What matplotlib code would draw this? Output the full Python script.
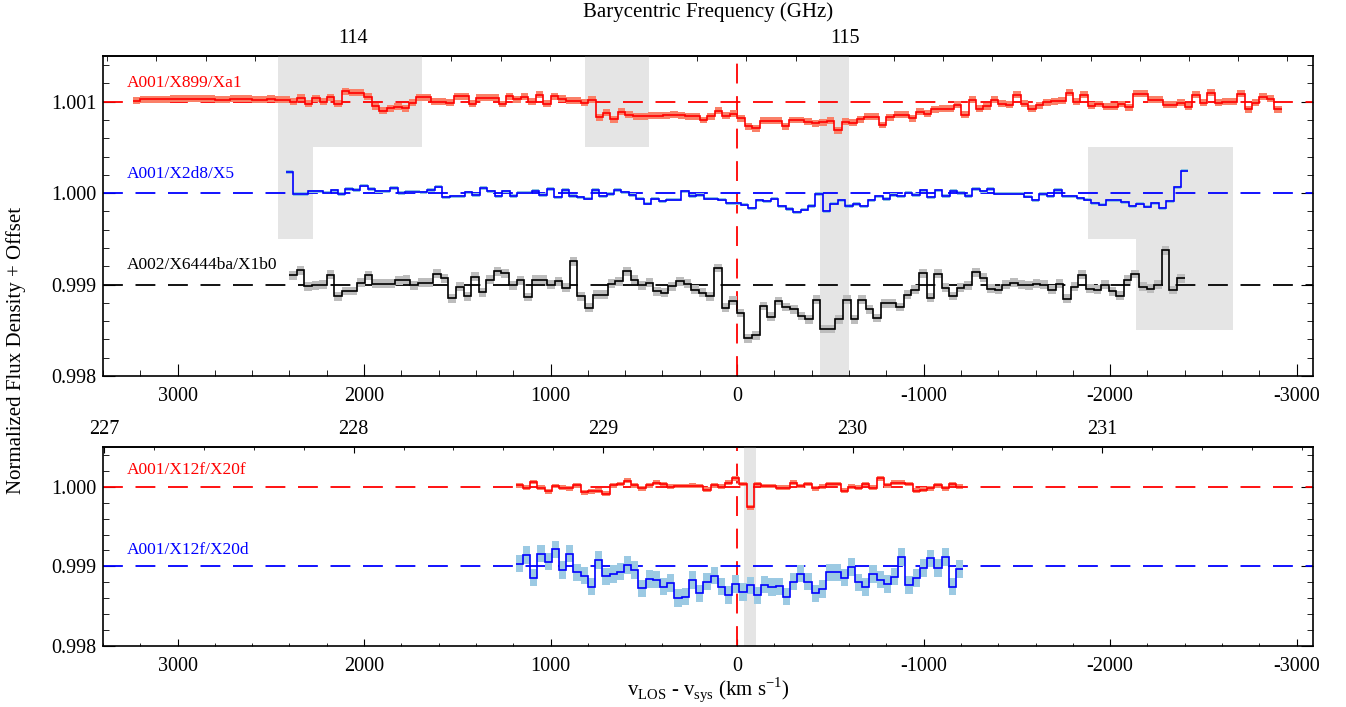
import numpy as np
import matplotlib
matplotlib.use('Agg')
import matplotlib.pyplot as plt
from matplotlib.ticker import MultipleLocator, FixedLocator, FormatStrFormatter
import matplotlib.transforms as mtransforms

plt.rcParams['font.family'] = ['Liberation Serif', 'DejaVu Serif']
plt.rcParams['mathtext.fontset'] = 'custom'
plt.rcParams['mathtext.rm'] = 'Liberation Serif'
plt.rcParams['axes.unicode_minus'] = False

# velocity range shown (km/s), same for both panels
v_left, v_right = 3400.0, -3088.0

# barycentric frequency (GHz) at v=0 and GHz per km/s, top / bottom panel
f0_top, dfdv_top = 114.781, 3.793e-4
f0_bot, dfdv_bot = 229.537, 7.475e-4
freq_ticks_top = [114, 115]
freq_ticks_bot = [227, 228, 229, 230, 231]

# ---- top panel: three spectral windows ----
# channel grid: first channel edge (km/s) and channel width (km/s)
red1_v0, red1_dv = 3239.0, 40.0
blue1_v0, blue1_dv = 2420.0, 40.0
blk1_v0, blk1_dv = 2403.0, 40.7
red1_off, blue1_off, blk1_off = 1.001, 1.000, 0.999
# flux minus offset, in units of 1e-4
red1_dev = [0.1, 0.25, 0.25, 0.25, 0.25, 0.3, 0.35, 0.35, 0.35, 0.35, 0.3, 0.2, 0.2, 0.3, 0.3, 0.3, 0.2, 0.2, 0.35,
            0.2, 0.2, 0.0, 0.45, -0.2, 0.4, 0.0, 0.5, -0.2, 1.15, 1.0, 1.0, 0.55, -0.5, -1.0, -0.7, -0.55, -0.7,
            -0.1, 0.5, 0.5, 0.0, 0.0,
            -0.1, 0.6, 0.6, -0.2, 0.45, 0.45, 0.45, -0.25, 0.6, 0.25, 0.55, 0.0, 0.75, -0.2, 0.6, 0.35, 0.1, 0.1,
            -0.1, 0.2, -1.7, -1.2, -1.9, -1.1, -1.45, -1.6, -1.6, -1.55, -1.55, -1.5, -1.45, -1.5, -1.6, -1.6,
            -2.0, -1.6, -1.0,
            -1.55, -1.3, -1.8, -2.7, -2.9, -2.1, -2.1, -2.1, -2.7, -2.0, -2.0, -2.2, -2.35, -2.25, -2.1, -3.1,
            -2.2, -2.3, -1.9, -1.65, -1.65, -2.55, -1.7, -1.45, -1.45, -1.8, -1.1, -1.3, -0.85, -0.75, -0.75,
            -0.35, -1.45, 0.2, -0.75, -0.5, 0.2, -0.2, -0.35, 0.75,
            -0.2, -0.75, -0.4, -0.05, 0.05, 0.1, 1.0, 0.0, 0.75, -0.45, -0.25, -0.55, -0.55, -0.25, -0.6, 0.85,
            0.85, 0.2, 0.2, -0.35, -0.35, -0.1, -0.55, 0.75, -0.1, 1.0, -0.1, 0.0, 0.0, 0.85, -0.85, -0.1, 0.55,
            0.35, -0.85]
blue1_dev = [2.3, -0.1, -0.1, 0.2, 0.2, 0.05, 0.3, -0.1, 0.45, 0.35, 0.8, 0.45, 0.2, 0.2, 0.55, 0.0, 0.15, 0.15,
             0.1, 0.35, 0.7, -0.45, -0.35, -0.35, 0.1, -0.2, 0.55, 0.2, -0.35, 0.2, -0.3, 0.05, 0.05, 0.25, -0.2,
             0.45, -0.45, 0.35, -0.3, -0.45, -0.6, 0.35, -0.35, -0.1, 0.35, 0.1, -0.2, -0.6, -1.15, -0.6, -0.9,
             -0.7, -0.7, 0.2, -0.3, -0.2, -0.6, -0.6,
             -0.7, -1.1, -1.1, -1.25, -1.65, -0.8, -0.9, -0.6, -1.45, -1.75, -2.1, -1.8, -1.4, -0.1, -2.0, -1.15,
             -0.8, -1.4, -1.2, -1.45, -0.8, -0.35, -0.65, -0.2, -0.35, 0.05, -0.2, 0.3, -0.45, 0.3, -0.3, 0.25,
             0.0, -0.3, 0.45, 0.2, 0.45, -0.05, -0.05, -0.05,
             -0.05, -0.4, -0.8, -0.1, -0.35, 0.35, -0.35, -0.35, -0.55, -0.7, -1.1, -1.25, -0.8, -0.8, -1.0,
             -1.45, -1.15, -1.5, -1.1, -1.65, -0.9, 0.65, 2.45]
blk1_dev = [1.0, 1.55, -0.2, -0.1, 0.0, 1.1, -1.3, -0.7, -0.7, 0.2, 1.0, 0.1, 0.1, 0.1, 0.45, 0.55, -0.1, 0.2, 0.2,
            1.2, 0.7, -1.5,
            -0.25, -1.3, 0.85, -0.85, 0.55, 1.45, 1.25, -0.1, 0.45, -1.35, 0.55, 0.55, 0.0, 0.35, -0.35, 2.55,
            -1.3, -2.55, -1.1, -1.1, 0.1, 0.35, 1.45, 0.55, -0.1, 0.2, -0.75, -0.9, -0.2, 0.35, 0.1, -0.55, -0.9,
            -1.3, 1.8,
            -2.55, -1.75, -3.1, -5.9, -5.55, -2.35, -3.5, -1.8, -2.45, -2.7, -3.45, -3.8, -1.65, -4.85, -4.85,
            -3.8, -1.65, -3.8, -1.65, -2.7, -3.65, -2.05, -2.05, -2.45, -1.1, -0.55, 1.25, -1.45, 1.2, -0.35,
            -1.25, -0.35, -0.1, 1.35, 0.75, -0.45, -0.6, 0.0, 0.2,
            0.0, -0.1, 0.1, 0.0, -0.55, 0.1, -1.55, -0.25, 1.1, -0.45, -0.55, 0.0, -0.75, -1.2, 0.55, 1.15,
            -0.25, -0.45, 0.0, 3.75, -0.6, 0.7]
# 1-sigma band half widths (1e-4)
red1_err, blue1_err, blk1_err = 0.38, 0.18, 0.48
top_names = ['A001/X899/Xa1', 'A001/X2d8/X5', 'A002/X6444ba/X1b0']

# ---- bottom panel: two spectral windows ----
bot_v0, bot_dv = 1187.0, 38.7
red2_off, blue2_off = 1.000, 0.999
red2_dev = [0.2, -0.1, 0.6, -0.1, -0.55, 0.1, -0.1, -0.2, 0.2, -0.7, -0.55, -0.5, -0.85, 0.2, 0.35, 0.75, 0.2,
            -0.2, 0.2, 0.5, 0.35, 0.0, 0.1, 0.1, 0.15, 0.1, -0.35, 0.2, 0.0, 0.5, 1.05, 0.35, -2.6, 0.35, 0.1,
            0.1, -0.1, -0.1, 0.5, 0.1, 0.35, -0.2, 0.0, 0.35, 0.35, -0.5, 0.0, -0.1, 0.35, -0.1, 1.05, 0.2, 0.5,
            0.5, 0.35, -0.5, -0.35, -0.2, 0.2, -0.2, 0.35, 0.0]
blue2_dev = [0.35, 1.45, -1.4, 1.6, 0.6, 2.15, -0.45, 1.6, -0.75, -1.15, -2.55, 0.8, -1.25, -0.95, -0.65, 0.2,
             -0.45, -2.75, -1.6, -1.65, -2.55, -2.1, -4.0, -3.8, -1.7, -3.4, -1.9, -1.15, -2.55, -3.6, -2.2, -3.2,
             -2.4, -3.65, -2.3, -2.6, -2.5, -3.8, -1.9, -0.9, -1.9, -3.4, -2.85, -0.75, -0.75, -1.4, -0.05, -2.0,
             -2.6, -0.95, -1.65, -2.2, -1.3, 1.2, -2.35, -1.45, -0.2, 1.0, -0.2, 1.2, -2.55, -0.35]
red2_err, blue2_err = 0.3, 1.1
bot_names = ['A001/X12f/X20f', 'A001/X12f/X20d']

# flagged velocity ranges (v_hi, v_lo, flux_lo, flux_hi)
top_masks = [(2461, 1689, 1.0005, 1.0015), (2461, 2273, 0.9995, 1.0005), (815, 473, 1.0005, 1.0015),
             (-445, -602, 0.998, 1.0015), (-1884, -2658, 0.9995, 1.0005), (-2139, -2658, 0.9985, 0.9995)]
bot_masks = [(-38, -102, 0.998, 1.0005)]

mask_col = '#e5e5e5'
dash = (0, (11, 7))


def draw_spec(ax, v0, dv, dev, off, err, lcol, bcol):
    dev = np.asarray(dev)[::-1]
    edges = (v0 - dv * np.arange(len(dev) + 1))[::-1]
    flux = off + dev * 1e-4
    ax.stairs(flux + err * 1e-4, edges, baseline=flux - err * 1e-4, fill=True,
              color=bcol, lw=0, zorder=3)
    ax.stairs(flux, edges, baseline=None, color=lcol, lw=1.2, zorder=4)


def setup(ax, ylim, xlen, f0, dfdv, fticks, fminor):
    ax.set_xlim(v_left, v_right)
    ax.set_ylim(*ylim)
    ax.xaxis.set_major_locator(MultipleLocator(1000))
    ax.xaxis.set_minor_locator(MultipleLocator(200))
    ax.yaxis.set_major_locator(MultipleLocator(0.001))
    ax.yaxis.set_minor_locator(MultipleLocator(0.0002))
    ax.yaxis.set_major_formatter(FormatStrFormatter('%.3f'))
    ax.tick_params(axis='x', which='both', direction='in', top=False, labelsize=14.5, pad=8)
    ax.tick_params(axis='x', which='major', length=xlen)
    ax.tick_params(axis='x', which='minor', length=xlen / 2)
    ax.tick_params(axis='y', which='both', direction='in', left=True, right=True,
                   labelsize=14.5, pad=4.5)
    ax.tick_params(axis='y', which='major', length=8.6)
    ax.tick_params(axis='y', which='minor', length=4.3)
    for s in ax.spines.values():
        s.set_linewidth(1.2)
    sec = ax.secondary_xaxis('top', functions=(lambda v: f0 - dfdv * v,
                                               lambda f: (f0 - f) / dfdv))
    sec.xaxis.set_major_locator(FixedLocator(fticks))
    sec.xaxis.set_minor_locator(MultipleLocator(fminor))
    sec.xaxis.set_major_formatter(FormatStrFormatter('%.0f'))
    sec.tick_params(which='both', direction='in', labelsize=14.5, pad=5.5)
    sec.tick_params(which='major', length=xlen * 0.9)
    sec.tick_params(which='minor', length=xlen * 0.45)
    sec.spines['top'].set_linewidth(1.2)
    ax.axvline(0, color='red', ls=dash, lw=1.3, zorder=2)
    return sec


fig = plt.figure(figsize=(13.46, 7.07), dpi=100)
ax1 = fig.add_axes([0.0765, 0.4682, 0.899, 0.4526])
ax2 = fig.add_axes([0.0765, 0.0863, 0.899, 0.2815])

setup(ax1, (0.998, 1.0015), 8.6, f0_top, dfdv_top, freq_ticks_top, 0.1)
setup(ax2, (0.998, 1.0005), 5.0, f0_bot, dfdv_bot, freq_ticks_bot, 0.2)

for ax, masks in ((ax1, top_masks), (ax2, bot_masks)):
    for vh, vl, ylo, yhi in masks:
        ax.fill_between([vh, vl], ylo, yhi, color=mask_col, lw=0, zorder=1)

top_series = [(red1_v0, red1_dv, red1_dev, red1_off, red1_err, 'red', '#fa8068'),
              (blue1_v0, blue1_dv, blue1_dev, blue1_off, blue1_err, 'blue', '#8ec3e0'),
              (blk1_v0, blk1_dv, blk1_dev, blk1_off, blk1_err, 'black', '#bdbdbd')]
bot_series = [(bot_v0, bot_dv, red2_dev, red2_off, red2_err, 'red', '#fa8068'),
              (bot_v0, bot_dv, blue2_dev, blue2_off, blue2_err, 'blue', '#9ccae3')]

for ax, series, names in ((ax1, top_series, top_names), (ax2, bot_series, bot_names)):
    trans = mtransforms.blended_transform_factory(ax.transAxes, ax.transData)
    for (v0, dv, dev, off, err, lc, bc), name in zip(series, names):
        ax.axhline(off, color=lc, ls=dash, lw=1.3, zorder=2)
        draw_spec(ax, v0, dv, dev, off, err, lc, bc)
        ax.text(0.0198, off + 0.00021, name, color=lc, fontsize=12.5,
                va='center', ha='left', transform=trans)

fig.text(0.526, 1 - 12 / 707, 'Barycentric Frequency (GHz)', ha='center', va='center', fontsize=15)
fig.text(16 / 1346, 1 - 350 / 707, 'Normalized Flux Density + Offset', rotation=90,
         ha='center', va='center', fontsize=15)
fig.text(0.526, 1 - 690 / 707,
         r'v$_{\mathregular{LOS}}$ - v$_{\mathregular{sys}}$ (km s$^{\mathregular{-1}}$)',
         ha='center', va='center', fontsize=15)

fig.savefig('out.png', dpi=100)
